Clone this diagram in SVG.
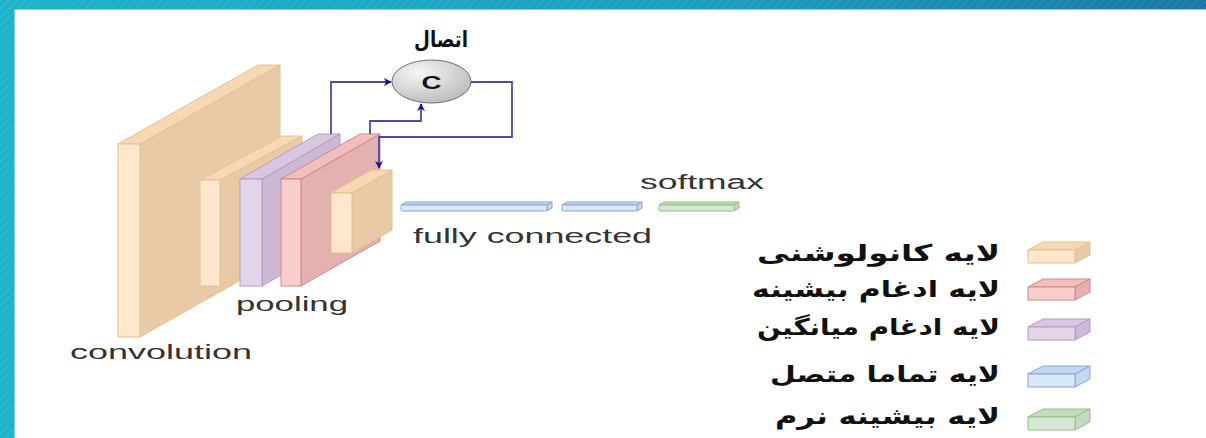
<svg xmlns="http://www.w3.org/2000/svg" width="1206" height="438" viewBox="0 0 1206 438">
<defs>
<linearGradient id="bar" x1="0" y1="0" x2="1" y2="0">
<stop offset="0" stop-color="#1fb3c9"/>
<stop offset="0.6" stop-color="#1c9dc0"/>
<stop offset="1" stop-color="#1a78a6"/>
</linearGradient>
<pattern id="stripes" width="6" height="6" patternUnits="userSpaceOnUse" patternTransform="rotate(45)">
<rect width="6" height="6" fill="none"/>
<line x1="0" y1="0" x2="0" y2="6" stroke="#ffffff" stroke-opacity="0.08" stroke-width="2"/>
</pattern>
<radialGradient id="cgrad" cx="0.35" cy="0.3" r="0.8">
<stop offset="0" stop-color="#f7f7f7"/>
<stop offset="1" stop-color="#b8b8b8"/>
</radialGradient>
<marker id="ah" viewBox="0 0 10 10" refX="9" refY="5" markerWidth="8" markerHeight="8" orient="auto" markerUnits="userSpaceOnUse">
<path d="M0,0 L10,5 L0,10 L3,5 z" fill="#12128a"/>
</marker>
<style>
.lbl{font-family:"Liberation Sans",Arial,sans-serif;font-size:20px;fill:#333333}
.fa{font-family:"DejaVu Sans",sans-serif;font-weight:bold;font-size:23px;fill:#111111}
.or-f{fill:#ffe6cc;stroke:#e3c28e;stroke-width:1}
.or-s{fill:#e8caa6;stroke:#e3c28e;stroke-width:1}
.or-t{fill:#f6d9b4;stroke:#e3c28e;stroke-width:1}
.pu-f{fill:#e1d5e7;stroke:#b59bc4;stroke-width:1}
.pu-s{fill:#cdb8d6;stroke:#b59bc4;stroke-width:1}
.pu-t{fill:#d9c7e1;stroke:#b59bc4;stroke-width:1}
.re-f{fill:#f8cecc;stroke:#d48784;stroke-width:1}
.re-s{fill:#e3b1af;stroke:#d48784;stroke-width:1}
.re-t{fill:#efbfbd;stroke:#d48784;stroke-width:1}
.bl-f{fill:#dae8fc;stroke:#8aa7d0;stroke-width:1}
.bl-s{fill:#c3d6f2;stroke:#8aa7d0;stroke-width:1}
.gr-f{fill:#d5e8d4;stroke:#96c084;stroke-width:1}
.gr-s{fill:#c0dbbd;stroke:#96c084;stroke-width:1}
.conn{fill:none;stroke:#4a4aaa;stroke-width:1.8}
</style>
</defs>
<rect width="1206" height="438" fill="#ffffff"/>
<g id="frame">
<rect x="0" y="0" width="1206" height="9" fill="url(#bar)"/>
<rect x="0" y="0" width="14" height="438" fill="#1fb3c9"/>
<rect x="0" y="0" width="1206" height="9" fill="url(#stripes)"/>
<rect x="0" y="0" width="14" height="438" fill="url(#stripes)"/>
<line x1="14" y1="9.5" x2="1206" y2="9.5" stroke="#7fd3e0" stroke-width="1"/>
<line x1="14.5" y1="9" x2="14.5" y2="438" stroke="#7fd3e0" stroke-width="1"/>
</g>
<g id="conv1">
<polygon class="or-s" points="140,144 280,65 280,258 140,337"/>
<polygon class="or-t" points="118,144 258,65 280,65 140,144"/>
<rect class="or-f" x="118" y="144" width="22" height="193"/>
</g>
<g id="conv2">
<polygon class="or-s" points="220,180 302,136 302,242 220,286"/>
<polygon class="or-t" points="200,180 282,136 302,136 220,180"/>
<rect class="or-f" x="200" y="180" width="20" height="106"/>
</g>
<g id="avgpool">
<polygon class="pu-s" points="262,179 340,134 340,241 262,286"/>
<polygon class="pu-t" points="240,179 318,134 340,134 262,179"/>
<rect class="pu-f" x="240" y="179" width="22" height="107"/>
</g>
<g id="maxpool">
<polygon class="re-s" points="301,179 380,134 380,241 301,286"/>
<polygon class="re-t" points="281,179 360,134 380,134 301,179"/>
<rect class="re-f" x="281" y="179" width="20" height="107"/>
</g>
<g id="conv3">
<polygon class="or-s" points="352,193 392,170 392,230 352,253"/>
<polygon class="or-t" points="331,193 371,170 392,170 352,193"/>
<rect class="or-f" x="331" y="193" width="21" height="60"/>
</g>
<g id="concat">
<ellipse cx="431.5" cy="81.5" rx="39.5" ry="21.5" fill="url(#cgrad)" stroke="#6e6e6e" stroke-width="1"/>
<text x="431.5" y="88.5" text-anchor="middle" font-family="Liberation Sans, Arial, sans-serif" font-weight="bold" font-size="19" fill="#111" textLength="20" lengthAdjust="spacingAndGlyphs">C</text>
</g>
<g id="connectors">
<path class="conn" d="M331,134 V82 H391" marker-end="url(#ah)"/>
<path class="conn" d="M370,134 V121 H421 V104" marker-end="url(#ah)"/>
<path class="conn" d="M471,82 H512 V137 H379 V168" marker-end="url(#ah)"/>
</g>
<g id="fc1">
<polygon class="bl-s" points="401,205 406,202 552,202 547,205"/>
<polygon class="bl-s" points="547,205 552,202 552,208 547,211"/>
<rect class="bl-f" x="401" y="205" width="146" height="6" rx="1.5"/>
</g>
<g id="fc2">
<polygon class="bl-s" points="562,205 567,202 642,202 637,205"/>
<polygon class="bl-s" points="637,205 642,202 642,208 637,211"/>
<rect class="bl-f" x="562" y="205" width="75" height="6" rx="1.5"/>
</g>
<g id="softmax">
<polygon class="gr-s" points="659,205 664,202 739,202 734,205"/>
<polygon class="gr-s" points="734,205 739,202 739,208 734,211"/>
<rect class="gr-f" x="659" y="205" width="75" height="6" rx="1.5"/>
</g>
<g id="labels">
<text class="fa" x="441" y="47" text-anchor="middle" font-size="26" textLength="54" lengthAdjust="spacingAndGlyphs">اتصال</text>
<text class="lbl" x="640" y="189" font-size="18" textLength="124" lengthAdjust="spacingAndGlyphs">softmax</text>
<text class="lbl" x="413" y="243" textLength="239" lengthAdjust="spacingAndGlyphs">fully connected</text>
<text class="lbl" x="236" y="311" textLength="112" lengthAdjust="spacingAndGlyphs">pooling</text>
<text class="lbl" x="70" y="359" textLength="182" lengthAdjust="spacingAndGlyphs">convolution</text>
</g>
<g id="legend-conv">
<polygon class="or-t" points="1028,250 1043,242 1090,242 1075,250"/>
<polygon class="or-s" points="1075,250 1090,242 1090,255 1075,263"/>
<rect class="or-f" x="1028" y="250" width="47" height="13"/>
<text class="fa" x="1000" y="261" text-anchor="end" textLength="243" lengthAdjust="spacingAndGlyphs">لایه کانولوشنی</text>
</g>
<g id="legend-maxpool">
<polygon class="re-t" points="1028,287 1043,279 1090,279 1075,287"/>
<polygon class="re-s" points="1075,287 1090,279 1090,292 1075,300"/>
<rect class="re-f" x="1028" y="287" width="47" height="13"/>
<text class="fa" x="1000" y="297" text-anchor="end" textLength="248" lengthAdjust="spacingAndGlyphs">لایه ادغام بیشینه</text>
</g>
<g id="legend-avgpool">
<polygon class="pu-t" points="1028,327 1043,319 1090,319 1075,327"/>
<polygon class="pu-s" points="1075,327 1090,319 1090,332 1075,340"/>
<rect class="pu-f" x="1028" y="327" width="47" height="13"/>
<text class="fa" x="1000" y="335" text-anchor="end" textLength="243" lengthAdjust="spacingAndGlyphs">لایه ادغام میانگین</text>
</g>
<g id="legend-fc">
<polygon class="bl-s" points="1028,374 1043,366 1090,366 1075,374"/>
<polygon class="bl-s" points="1075,374 1090,366 1090,379 1075,387"/>
<rect class="bl-f" x="1028" y="374" width="47" height="13"/>
<text class="fa" x="1000" y="382" text-anchor="end" textLength="230" lengthAdjust="spacingAndGlyphs">لایه تماما متصل</text>
</g>
<g id="legend-softmax">
<polygon class="gr-s" points="1028,417 1043,409 1090,409 1075,417"/>
<polygon class="gr-s" points="1075,417 1090,409 1090,422 1075,430"/>
<rect class="gr-f" x="1028" y="417" width="47" height="13"/>
<text class="fa" x="1000" y="424" text-anchor="end" textLength="225" lengthAdjust="spacingAndGlyphs">لایه بیشینه نرم</text>
</g>
</svg>
